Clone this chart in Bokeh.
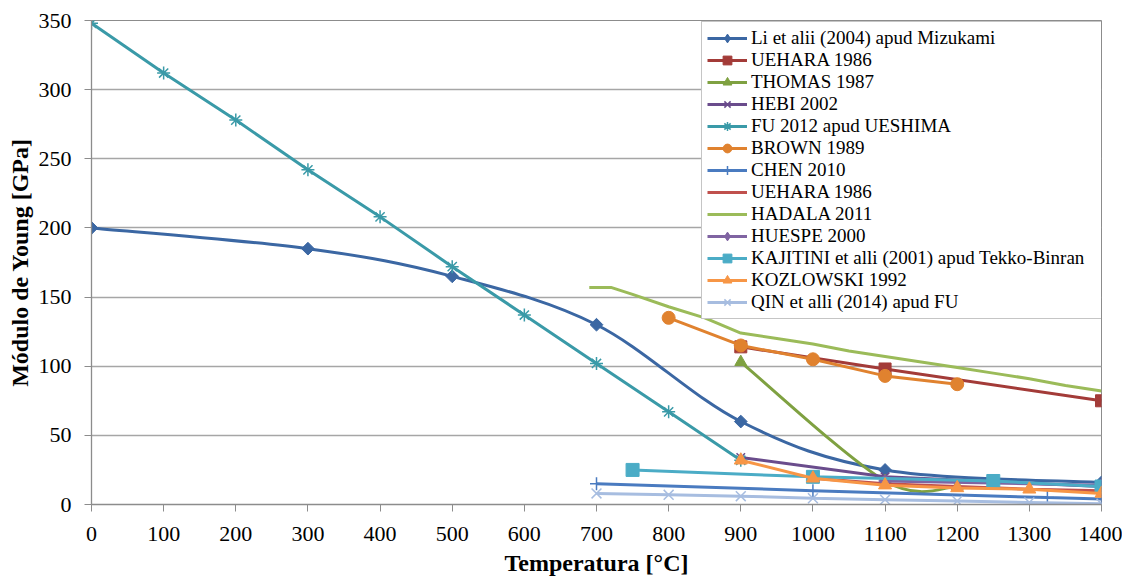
import math
from bokeh.plotting import figure
from bokeh.models import (ColumnDataSource, Legend, LegendItem, SingleIntervalTicker,
                          Range1d)
from bokeh.embed import file_html
from bokeh.resources import INLINE

# ---------------- data ----------------
li_x = [0, 300, 500, 700, 900, 1100, 1400]
li_y = [200, 185, 165, 130, 60, 25, 16]

uehara_x = [900, 1100, 1400]
uehara_y = [114, 98, 75]

thomas_x = [900, 1100, 1200]
thomas_y = [103, 17, 13]

hebi_x = [900, 1100, 1400]
hebi_y = [34, 20, 13]

fu_x = [0, 100, 200, 300, 400, 500, 600, 700, 800, 900]
fu_y = [348, 312, 278, 242, 208, 172, 137, 102, 67, 32]

brown_x = [800, 900, 1000, 1100, 1200]
brown_y = [135, 115, 105, 93, 87]

chen_x = [700, 1000, 1325, 1400]
chen_y = [15, 10, 5, 4]

uehara2_x = [1000, 1100, 1200, 1300, 1400]
uehara2_y = [19, 15, 13, 11, 10]

hadala_x = [690, 720, 750, 800, 850, 900, 950, 1000, 1050, 1100, 1150, 1200, 1250, 1300, 1350, 1400]
hadala_y = [157, 157, 152, 143, 135, 124, 120, 116, 111, 107, 103, 99, 95, 91, 86, 82]

huespe_x = [1100, 1400]
huespe_y = [17, 14]

kaji_x = [750, 1000, 1250, 1400]
kaji_y = [25, 20, 17, 13]

koz_x = [900, 1000, 1100, 1200, 1300, 1400]
koz_y = [32, 19, 14, 12, 11, 8]

qin_x = [700, 800, 900, 1000, 1100, 1200, 1300, 1400]
qin_y = [8, 7, 6, 4.5, 3.5, 2.5, 1.5, 0.5]

x_tick_interval = 100
y_tick_interval = 50

FONT = "'Liberation Serif', 'Times New Roman', serif"
NAN = float("nan")

p = figure(width=1122, height=579, output_backend="svg", toolbar_location=None,
           x_range=Range1d(0, 1400), y_range=Range1d(0, 350),
           min_border_left=91, min_border_right=21, min_border_top=20, min_border_bottom=75)
p.background_fill_color = "white"
p.border_fill_color = "white"
p.outline_line_color = "#8c8c8c"
p.outline_line_width = 1

p.xgrid.visible = False
p.ygrid.grid_line_color = "#a6a6a6"
p.ygrid.grid_line_width = 1.3
p.xaxis.ticker = SingleIntervalTicker(interval=x_tick_interval)
p.yaxis.ticker = SingleIntervalTicker(interval=y_tick_interval)
for ax in (p.xaxis, p.yaxis):
    ax.axis_line_color = "#8c8c8c"
    ax.axis_line_width = 1.3
    ax.major_tick_line_color = "#8c8c8c"
    ax.minor_tick_line_color = None
    ax.major_tick_in = 0
    ax.major_label_text_font = FONT
    ax.major_label_text_font_size = "22px"
    ax.major_label_text_color = "black"
    ax.axis_label_text_font = FONT
    ax.axis_label_text_font_size = "24px"
    ax.axis_label_text_font_style = "bold"
    ax.axis_label_text_color = "black"
p.xaxis.major_tick_out = 7
p.yaxis.major_tick_out = 7
p.xaxis.major_label_standoff = 15
p.yaxis.major_label_standoff = 13
p.xaxis.axis_label = "Temperatura [°C]"
p.yaxis.axis_label = "Módulo de Young [GPa]"
p.xaxis.axis_label_standoff = 6
p.yaxis.axis_label_standoff = 3


def smooth_segments(xs, ys):
    # Bezier control points for a smoothed (Catmull-Rom style) line through the points
    n = len(xs)
    x0, y0, x1, y1, cx0, cy0, cx1, cy1 = [], [], [], [], [], [], [], []
    for i in range(n - 1):
        pxm = xs[i - 1] if i > 0 else xs[i]
        pym = ys[i - 1] if i > 0 else ys[i]
        pxp = xs[i + 2] if i + 2 < n else xs[i + 1]
        pyp = ys[i + 2] if i + 2 < n else ys[i + 1]
        x0.append(xs[i]); y0.append(ys[i]); x1.append(xs[i + 1]); y1.append(ys[i + 1])
        cx0.append(xs[i] + (xs[i + 1] - pxm) / 6); cy0.append(ys[i] + (ys[i + 1] - pym) / 6)
        cx1.append(xs[i + 1] - (pxp - xs[i]) / 6); cy1.append(ys[i + 1] - (pyp - ys[i]) / 6)
    return dict(x0=x0, y0=y0, x1=x1, y1=y1, cx0=cx0, cy0=cy0, cx1=cx1, cy1=cy1)


items = []


def add_series(label, xs, ys, color, marker=None, msize=11, smooth=False, lw=3):
    rs = []
    if smooth:
        src = ColumnDataSource(smooth_segments(xs, ys))
        p.bezier(x0="x0", y0="y0", x1="x1", y1="y1", cx0="cx0", cy0="cy0",
                 cx1="cx1", cy1="cy1", source=src, line_color=color, line_width=lw)
        rs.append(p.line(x=[NAN], y=[NAN], line_color=color, line_width=lw))
    else:
        rs.append(p.line(xs, ys, line_color=color, line_width=lw))
    if marker is not None:
        if marker in ("x", "asterisk", "cross"):
            rs.append(p.scatter(xs, ys, marker=marker, size=msize, line_color=color,
                                line_width=1.5, fill_color=None))
        elif marker == "diamond":
            p.scatter(xs, ys, marker="square", angle=math.pi / 4, size=msize,
                      line_color=color, fill_color=color)
            # legend swatch for the diamond marker
            rs.append(p.scatter(x=[NAN], y=[NAN], marker="diamond", size=msize + 5,
                                line_color=color, fill_color=color))
        else:
            rs.append(p.scatter(xs, ys, marker=marker, size=msize, line_color=color,
                                fill_color=color))
    items.append(LegendItem(label=label, renderers=rs))


add_series("Li et alii (2004) apud Mizukami", li_x, li_y, "#3b67a3", "diamond", 9, smooth=True)
add_series("UEHARA 1986", uehara_x, uehara_y, "#a33b38", "square", 12)
add_series("THOMAS 1987", thomas_x, thomas_y, "#7fa141", "triangle", 12, smooth=True)
add_series("HEBI 2002", hebi_x, hebi_y, "#6a4c8c", "x", 12)
add_series("FU 2012 apud UESHIMA", fu_x, fu_y, "#3a9aa8", "asterisk", 13)
add_series("BROWN 1989", brown_x, brown_y, "#e0822f", "circle", 13)
add_series("CHEN 2010", chen_x, chen_y, "#4a7bc0", "cross", 13)
add_series("UEHARA 1986", uehara2_x, uehara2_y, "#c0504d")
add_series("HADALA 2011", hadala_x, hadala_y, "#9bbb59")
add_series("HUESPE 2000", huespe_x, huespe_y, "#8064a2", "diamond", 9)
add_series("KAJITINI et alli (2001) apud Tekko-Binran", kaji_x, kaji_y, "#4bacc6", "square", 13)
add_series("KOZLOWSKI 1992", koz_x, koz_y, "#f79646", "triangle", 13)
add_series("QIN et alli (2014) apud FU", qin_x, qin_y, "#a7bde0", "x", 14)

legend = Legend(items=items, location=(610, 185))
legend.label_text_font = FONT
legend.label_text_font_size = "19px"
legend.label_text_color = "black"
legend.glyph_width = 40
legend.glyph_height = 22
legend.label_height = 22
legend.label_width = 356
legend.spacing = 0
legend.padding = 5
legend.margin = 0
legend.label_standoff = 4
legend.border_line_color = "#8c8c8c"
legend.border_line_width = 1
legend.background_fill_color = "white"
legend.background_fill_alpha = 1
p.add_layout(legend)

open("out.html", "w").write(file_html(p, INLINE))
